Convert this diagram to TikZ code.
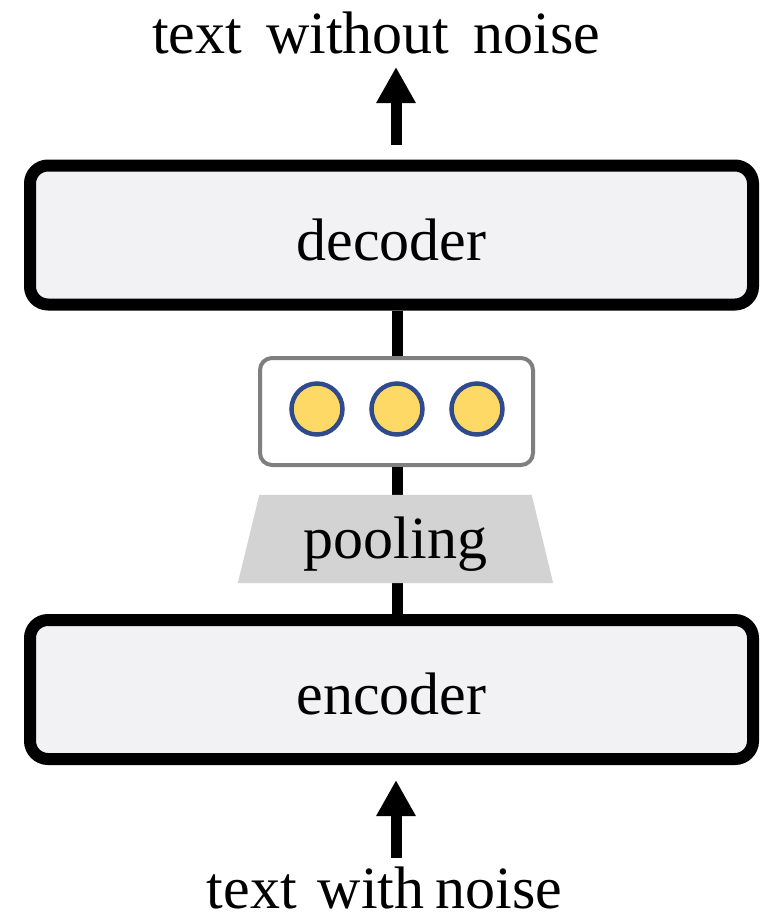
\documentclass[tikz,border=0pt]{standalone}
\usepackage{fontspec}
\setmainfont{Liberation Serif}
\usetikzlibrary{arrows.meta}

\definecolor{boxfill}{HTML}{F2F2F4}
\definecolor{vecframe}{HTML}{7F7F7F}
\definecolor{unitfill}{HTML}{FFD966}
\definecolor{unitedge}{HTML}{2F4B8C}
\definecolor{poolfill}{HTML}{D3D3D3}

\tikzset{
  bigtext/.style={font=\fontsize{60}{72}\selectfont, inner sep=0pt},
  block/.style={bigtext, draw=black, fill=boxfill, line width=12pt,
    rounded corners=18pt, minimum width=723pt, minimum height=139pt,
    text height=50pt, text depth=0pt},
  vecbox/.style={draw=vecframe, fill=white, line width=4pt,
    rounded corners=12pt, minimum width=273pt, minimum height=107pt},
  unit/.style={circle, draw=unitedge, fill=unitfill, line width=4.5pt,
    minimum size=51pt, inner sep=0pt},
  spine/.style={line width=11pt, draw=black},
  flow/.style={line width=11pt, -{Triangle[width=37pt,length=36pt]}}
}

\begin{document}
\begin{tikzpicture}[x=1pt,y=-1pt]
  \useasboundingbox (0,0) rectangle (761,921);
  \coordinate (axis) at (397,0);

  % main blocks
  \node[block] (dec) at (391.5,235) {decoder};
  \node[block] (enc) at (391.5,689.5) {encoder};

  % pooled vector with three units
  \node[vecbox] (vec) at (396.5,411.5) {};
  \node[unit] (u1) at (317,409) {};
  \node[unit] (u2) at (397,409) {};
  \node[unit] (u3) at (477,409) {};

  % pooling trapezoid
  \node[minimum width=315pt, minimum height=88pt, inner sep=0pt] (pool) at (395.5,539) {};

  % vertical links between the stages
  \draw[spine] (dec.south -| axis) -- (vec.north -| axis);
  \draw[spine] (vec.south -| axis) -- (pool.north -| axis);
  \draw[spine] (pool.south -| axis) -- (enc.north -| axis);

  \fill[poolfill] (pool.south west) -- (pool.south east)
    -- ([xshift=-21.5pt]pool.north east) -- ([xshift=21.5pt]pool.north west) -- cycle;
  \node[bigtext, anchor=base] (poollabel) at (395.5,558) {pooling};

  % input and output
  \node[bigtext, anchor=base] (out) at (376,53) {text\hspace{9pt} without\hspace{9pt} noise};
  \node[bigtext, anchor=base] (in) at (384.5,908) {text\hspace{6pt} with\hspace{-4pt} noise};

  \coordinate (outtail) at (396,145);
  \coordinate (outtip) at (396,67);
  \coordinate (intail) at (396,858);
  \coordinate (intip) at (396,780);
  \draw[flow] (outtail) -- (outtip);
  \draw[flow] (intail) -- (intip);
\end{tikzpicture}
\end{document}
